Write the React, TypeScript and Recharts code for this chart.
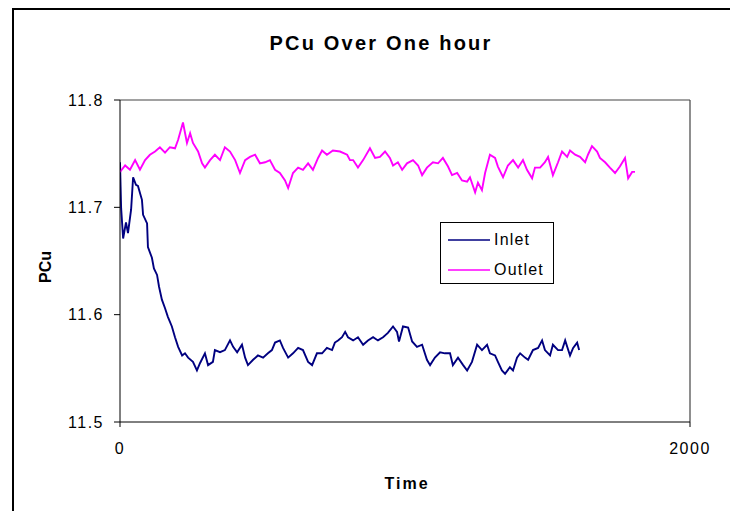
import React from 'react';
import { LineChart, Line, XAxis, YAxis, ReferenceLine, Legend } from 'recharts';

const inletTime = [0, 4, 11, 21, 28, 39, 46, 56, 63, 77, 81, 95, 98, 112, 119, 130, 137, 147, 158, 168, 182, 193, 204, 218, 228, 239, 256, 270, 281, 298, 309, 326, 333, 351, 368, 386, 397, 411, 428, 439, 449, 467, 484, 502, 519, 533, 544, 561, 572, 590, 607, 625, 642, 660, 674, 691, 709, 726, 744, 754, 765, 779, 790, 800, 818, 835, 853, 870, 888, 905, 923, 940, 958, 972, 979, 993, 1011, 1025, 1042, 1060, 1077, 1088, 1105, 1123, 1140, 1158, 1168, 1186, 1204, 1218, 1235, 1253, 1270, 1288, 1298, 1316, 1326, 1340, 1351, 1368, 1379, 1393, 1404, 1421, 1432, 1449, 1467, 1481, 1491, 1509, 1519, 1537, 1551, 1562, 1579, 1590, 1604, 1611];
const inletPCu = [11.742, 11.699, 11.671, 11.686, 11.676, 11.698, 11.728, 11.721, 11.72, 11.707, 11.693, 11.685, 11.663, 11.653, 11.643, 11.637, 11.626, 11.614, 11.606, 11.598, 11.589, 11.579, 11.57, 11.562, 11.564, 11.56, 11.556, 11.548, 11.555, 11.564, 11.553, 11.556, 11.567, 11.565, 11.567, 11.576, 11.57, 11.565, 11.572, 11.56, 11.553, 11.558, 11.562, 11.56, 11.564, 11.567, 11.574, 11.576, 11.569, 11.56, 11.564, 11.569, 11.567, 11.556, 11.553, 11.564, 11.564, 11.569, 11.567, 11.574, 11.576, 11.579, 11.584, 11.579, 11.576, 11.579, 11.572, 11.576, 11.579, 11.576, 11.579, 11.583, 11.589, 11.584, 11.575, 11.589, 11.588, 11.575, 11.57, 11.572, 11.558, 11.553, 11.56, 11.565, 11.564, 11.564, 11.553, 11.56, 11.553, 11.548, 11.556, 11.572, 11.567, 11.572, 11.564, 11.562, 11.556, 11.548, 11.545, 11.551, 11.548, 11.56, 11.564, 11.56, 11.558, 11.567, 11.569, 11.576, 11.567, 11.562, 11.572, 11.567, 11.567, 11.576, 11.562, 11.569, 11.574, 11.567];

const outletTime = [0, 18, 35, 53, 70, 88, 105, 123, 140, 158, 175, 193, 204, 221, 235, 246, 256, 274, 288, 298, 316, 333, 351, 368, 386, 404, 421, 439, 456, 474, 491, 509, 526, 544, 561, 579, 590, 607, 625, 642, 660, 677, 695, 709, 726, 747, 772, 797, 807, 818, 835, 853, 877, 895, 912, 930, 947, 958, 975, 990, 1007, 1028, 1046, 1060, 1077, 1098, 1116, 1133, 1151, 1165, 1183, 1200, 1218, 1228, 1246, 1256, 1270, 1281, 1298, 1316, 1326, 1344, 1361, 1379, 1397, 1414, 1428, 1446, 1456, 1474, 1491, 1502, 1519, 1537, 1551, 1569, 1579, 1597, 1614, 1632, 1642, 1656, 1674, 1684, 1702, 1719, 1737, 1754, 1772, 1783, 1797, 1807];
const outletPCu = [11.733, 11.739, 11.735, 11.744, 11.735, 11.744, 11.749, 11.752, 11.756, 11.751, 11.756, 11.755, 11.763, 11.779, 11.76, 11.769, 11.76, 11.752, 11.741, 11.737, 11.744, 11.749, 11.744, 11.756, 11.752, 11.744, 11.732, 11.744, 11.747, 11.749, 11.741, 11.742, 11.744, 11.735, 11.732, 11.725, 11.718, 11.732, 11.737, 11.735, 11.741, 11.735, 11.746, 11.753, 11.749, 11.753, 11.752, 11.749, 11.744, 11.744, 11.737, 11.744, 11.755, 11.746, 11.747, 11.752, 11.746, 11.739, 11.742, 11.735, 11.741, 11.744, 11.739, 11.73, 11.737, 11.742, 11.741, 11.746, 11.738, 11.73, 11.732, 11.725, 11.724, 11.728, 11.714, 11.723, 11.716, 11.732, 11.749, 11.746, 11.738, 11.728, 11.739, 11.744, 11.737, 11.744, 11.735, 11.727, 11.737, 11.737, 11.742, 11.747, 11.73, 11.742, 11.752, 11.747, 11.753, 11.749, 11.747, 11.742, 11.749, 11.757, 11.752, 11.746, 11.742, 11.737, 11.732, 11.738, 11.746, 11.727, 11.733, 11.733];

const xTicks = [0, 2000];
const yTicks = [11.5, 11.6, 11.7, 11.8];
const seriesNames = ['Inlet', 'Outlet'];
const seriesColors = ['#000080', '#FF00FF'];
const titleText = 'PCu Over One hour';
const xLabel = 'Time';
const yLabel = 'PCu';

const inletData = inletTime.map((t, i) => ({ time: t, value: inletPCu[i] }));
const outletData = outletTime.map((t, i) => ({ time: t, value: outletPCu[i] }));

const FONT = '"Liberation Sans", Arial, sans-serif';

const LegendBox = () => (
  <div style={{ width: 112, height: 60, border: '1px solid #000', background: '#fff', fontFamily: FONT }}>
    <svg width={112} height={60}>
      {seriesNames.map((n, i) => (
        <g key={n}>
          <line x1={7} x2={49} y1={17 + i * 30} y2={17 + i * 30} stroke={seriesColors[i]} strokeWidth={1.5} />
          <text x={53} y={22 + i * 30} fontSize={16} letterSpacing={1.2} fill="#000" fontFamily={FONT}>{n}</text>
        </g>
      ))}
    </svg>
  </div>
);

export default function App() {
  return (
    <div style={{ position: 'absolute', left: 0, top: 0, width: 730, height: 511, overflow: 'hidden', background: '#fff' }}>
      <LineChart width={730} height={511} data={inletData} margin={{ top: 100, right: 40, bottom: 59, left: 60 }}>
        <XAxis
          dataKey="time"
          type="number"
          domain={[0, 2000]}
          ticks={xTicks}
          allowDataOverflow
          height={30}
          stroke="#000"
          tickSize={5}
          tickMargin={16}
          tick={{ fill: '#000', fontSize: 16, fontFamily: FONT, letterSpacing: 1.5 }}
        />
        <YAxis
          type="number"
          domain={[11.5, 11.8]}
          ticks={yTicks}
          allowDataOverflow
          width={60}
          stroke="#000"
          tickSize={6}
          tickMargin={10}
          tickFormatter={(v: number) => v.toFixed(1)}
          tick={{ fill: '#000', fontSize: 16, fontFamily: FONT, letterSpacing: 1.5 }}
        />
        <ReferenceLine y={11.8} stroke="#444" strokeWidth={1.2} />
        <ReferenceLine x={2000} stroke="#444" strokeWidth={1.2} />
        <Line data={inletData} dataKey="value" name={seriesNames[0]} stroke={seriesColors[0]} strokeWidth={1.9} dot={false} isAnimationActive={false} type="linear" />
        <Line data={outletData} dataKey="value" name={seriesNames[1]} stroke={seriesColors[1]} strokeWidth={1.9} dot={false} isAnimationActive={false} type="linear" />
        <Legend
          layout="horizontal"
          verticalAlign="middle"
          align="center"
          content={() => <LegendBox />}
          wrapperStyle={{ left: 440, top: 222, width: 114, height: 62 }}
        />
      </LineChart>
      <svg width={730} height={511} style={{ position: 'absolute', left: 0, top: 0, pointerEvents: 'none' }}>
        <text x={381} y={50} textAnchor="middle" fontSize={20} fontWeight="bold" letterSpacing={2.2} fontFamily={FONT} fill="#000">{titleText}</text>
        <text x={407} y={489} textAnchor="middle" fontSize={16} fontWeight="bold" letterSpacing={2} fontFamily={FONT} fill="#000">{xLabel}</text>
        <text x={0} y={0} transform="translate(51,267) rotate(-90)" textAnchor="middle" fontSize={16} fontWeight="bold" fontFamily={FONT} fill="#000">{yLabel}</text>
      </svg>
      <div style={{ position: 'absolute', left: 12, top: 8, width: 800, height: 600, border: '2px solid #000', pointerEvents: 'none' }} />
    </div>
  );
}
